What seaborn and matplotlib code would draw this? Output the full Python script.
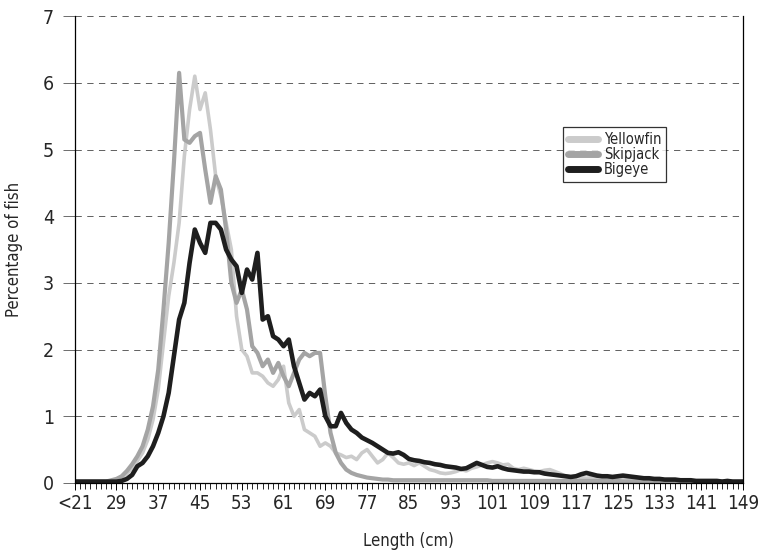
import matplotlib
matplotlib.use("Agg")
import matplotlib.pyplot as plt
from matplotlib.ticker import MultipleLocator, FixedLocator
import seaborn as sns
import pandas as pd
import numpy as np

# ---- data -------------------------------------------------------------
lengths = list(range(21, 150))
tick_labels = ["<21"] + [str(v) for v in range(29, 150, 8)]

yellowfin = [0.02, 0.02, 0.02, 0.02, 0.02, 0.02, 0.02, 0.03, 0.05, 0.08,   # 21-30
             0.14, 0.22, 0.33, 0.45, 0.65, 0.95, 1.40, 2.10, 2.80, 3.30,   # 31-40
             3.90, 4.90, 5.60, 6.10, 5.60, 5.85, 5.30, 4.60, 4.30, 3.90,   # 41-50
             3.50, 2.50, 2.00, 1.90, 1.65, 1.65, 1.60, 1.50, 1.45, 1.55,   # 51-60
             1.75, 1.20, 1.00, 1.10, 0.80, 0.75, 0.70, 0.55, 0.60, 0.55,   # 61-70
             0.45, 0.42, 0.38, 0.40, 0.35, 0.45, 0.50, 0.40, 0.30, 0.35,   # 71-80
             0.45, 0.38, 0.30, 0.28, 0.30, 0.26, 0.30, 0.25, 0.20, 0.18,   # 81-90
             0.15, 0.14, 0.15, 0.17, 0.20, 0.18, 0.22, 0.24, 0.27, 0.30,   # 91-100
             0.32, 0.30, 0.27, 0.28, 0.22, 0.20, 0.22, 0.20, 0.18, 0.17,   # 101-110
             0.19, 0.20, 0.17, 0.14, 0.10, 0.09, 0.10, 0.08, 0.07, 0.08,   # 111-120
             0.07, 0.06, 0.06, 0.07, 0.06, 0.05, 0.05, 0.05, 0.04, 0.04,   # 121-130
             0.04, 0.04, 0.03, 0.03, 0.03, 0.03, 0.03, 0.03, 0.03, 0.02,   # 131-140
             0.02, 0.02, 0.02, 0.02, 0.02, 0.02, 0.02, 0.02, 0.02]         # 141-149

skipjack = [0.02, 0.02, 0.02, 0.02, 0.02, 0.02, 0.02, 0.04, 0.06, 0.10,    # 21-30
            0.18, 0.28, 0.40, 0.55, 0.80, 1.15, 1.70, 2.60, 3.60, 4.80,    # 31-40
            6.15, 5.15, 5.10, 5.20, 5.25, 4.70, 4.20, 4.60, 4.40, 3.80,    # 41-50
            3.00, 2.70, 2.90, 2.60, 2.05, 1.95, 1.75, 1.85, 1.65, 1.80,    # 51-60
            1.60, 1.45, 1.65, 1.85, 1.95, 1.90, 1.95, 1.95, 1.30, 0.75,    # 61-70
            0.45, 0.30, 0.20, 0.15, 0.12, 0.10, 0.08, 0.07, 0.06, 0.05,    # 71-80
            0.05, 0.04, 0.04, 0.04, 0.04, 0.04, 0.04, 0.04, 0.04, 0.04,    # 81-90
            0.04, 0.04, 0.04, 0.04, 0.04, 0.04, 0.04, 0.04, 0.04, 0.04,    # 91-100
            0.03, 0.03, 0.03, 0.03, 0.03, 0.03, 0.03, 0.03, 0.03, 0.03,    # 101-110
            0.03, 0.03, 0.03, 0.03, 0.03, 0.03, 0.03, 0.03, 0.03, 0.03,    # 111-120
            0.03, 0.03, 0.03, 0.03, 0.03, 0.02, 0.02, 0.02, 0.02, 0.02,    # 121-130
            0.02, 0.02, 0.02, 0.02, 0.02, 0.02, 0.02, 0.02, 0.02, 0.02,    # 131-140
            0.02, 0.02, 0.02, 0.02, 0.02, 0.02, 0.02, 0.02, 0.02]          # 141-149

bigeye = [0.02, 0.02, 0.02, 0.02, 0.02, 0.02, 0.02, 0.02, 0.02, 0.03,      # 21-30
          0.06, 0.12, 0.25, 0.30, 0.40, 0.55, 0.75, 1.00, 1.35, 1.90,      # 31-40
          2.45, 2.70, 3.30, 3.80, 3.60, 3.45, 3.90, 3.90, 3.80, 3.50,      # 41-50
          3.35, 3.25, 2.85, 3.20, 3.05, 3.45, 2.45, 2.50, 2.20, 2.15,      # 51-60
          2.05, 2.15, 1.75, 1.50, 1.25, 1.35, 1.30, 1.40, 1.00, 0.85,      # 61-70
          0.85, 1.05, 0.90, 0.80, 0.75, 0.68, 0.64, 0.60, 0.55, 0.50,      # 71-80
          0.45, 0.44, 0.46, 0.42, 0.36, 0.34, 0.33, 0.31, 0.30, 0.28,      # 81-90
          0.27, 0.25, 0.24, 0.23, 0.21, 0.22, 0.26, 0.30, 0.27, 0.24,      # 91-100
          0.23, 0.25, 0.22, 0.20, 0.19, 0.18, 0.17, 0.17, 0.16, 0.16,      # 101-110
          0.14, 0.13, 0.12, 0.11, 0.10, 0.09, 0.10, 0.13, 0.15, 0.13,      # 111-120
          0.11, 0.10, 0.10, 0.09, 0.10, 0.11, 0.10, 0.09, 0.08, 0.07,      # 121-130
          0.07, 0.06, 0.06, 0.05, 0.05, 0.05, 0.04, 0.04, 0.04, 0.03,      # 131-140
          0.03, 0.03, 0.03, 0.03, 0.02, 0.03, 0.02, 0.02, 0.02]            # 141-149

series_names = ["Yellowfin", "Skipjack", "Bigeye"]
series_colors = {"Yellowfin": "#cbcbcb", "Skipjack": "#a4a4a4", "Bigeye": "#1e1e1e"}
series_widths = {"Yellowfin": 2.6, "Skipjack": 3.0, "Bigeye": 3.3}

# ---- build table ------------------------------------------------------
pos = np.arange(len(lengths))
frames = []
for name, vals in zip(series_names, [yellowfin, skipjack, bigeye]):
    frames.append(pd.DataFrame({"pos": pos, "length": lengths, "pct": vals, "species": name}))
df = pd.concat(frames, ignore_index=True)

# ---- plot -------------------------------------------------------------
sns.set_theme(style="ticks")
plt.rcParams["font.family"] = ["DejaVu Sans"]
plt.rcParams["font.stretch"] = "condensed"

fig = plt.figure(figsize=(7.7, 5.57), dpi=100)
ax = fig.add_axes([0.097, 0.133, 0.868, 0.838])

for name in series_names:
    sub = df[df["species"] == name]
    sns.lineplot(data=sub, x="pos", y="pct", ax=ax, color=series_colors[name],
                 linewidth=series_widths[name], label=name, solid_joinstyle="round")

ax.set_xlim(0, len(lengths) - 1)
ax.set_ylim(0, 7)

ax.xaxis.set_major_locator(FixedLocator(np.arange(0, len(lengths), 8)))
ax.set_xticklabels(tick_labels)
ax.xaxis.set_minor_locator(MultipleLocator(1))
ax.yaxis.set_major_locator(MultipleLocator(1))

ax.tick_params(axis="x", which="major", direction="out", length=5, width=0.7,
               color="black", labelsize=13.5, pad=3, bottom=True, top=False)
ax.tick_params(axis="x", which="minor", direction="out", length=4, width=0.6,
               color="black", bottom=True, top=False)
ax.tick_params(axis="y", which="major", direction="out", length=9, width=0.6,
               color="#555555", labelsize=14, pad=6, left=True, right=False)
ax.tick_params(axis="y", which="minor", left=False, right=False)

ax.grid(axis="y", linestyle=(0, (7, 6)), color="#555555", linewidth=0.65)
ax.grid(axis="x", visible=False)
ax.set_axisbelow(True)

for side in ["left", "bottom", "right"]:
    ax.spines[side].set_visible(True)
    ax.spines[side].set_color("black")
    ax.spines[side].set_linewidth(0.9)
ax.spines["top"].set_visible(False)

ax.set_xlabel("Length (cm)", fontsize=12, labelpad=14)
ax.set_ylabel("Percentage of fish", fontsize=12, labelpad=14)

leg = ax.legend(loc="upper left", bbox_to_anchor=(0.731, 0.762), fontsize=10.5,
                frameon=True, fancybox=False, handlelength=2.1, handletextpad=0.4,
                borderpad=0.3, labelspacing=0.02, borderaxespad=0)
leg.get_frame().set_edgecolor("black")
leg.get_frame().set_linewidth(0.9)
for line in leg.get_lines():
    line.set_linewidth(5)

fig.savefig("out.png", dpi=100)
